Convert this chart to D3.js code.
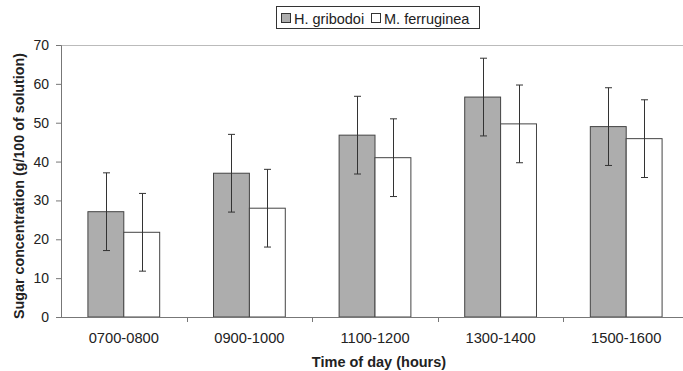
<!DOCTYPE html>
<html>
<head>
<meta charset="utf-8">
<script src="https://cdn.jsdelivr.net/npm/d3@7"></script>
<style>
	body { margin: 0; background: #fff; }
	text { font-family: "Liberation Sans", Arial, sans-serif; }
</style>
</head>
<body>
<svg id="chart" width="683" height="371"></svg>
<script>
// data
let categories = ['0700-0800', '0900-1000', '1100-1200', '1300-1400', '1500-1600'];
let series = ['H. gribodoi', 'M. ferruginea'];
let gribodoi = [27.1, 37.0, 46.8, 56.6, 49.0];
let ferruginea = [21.8, 28.0, 41.0, 49.7, 45.9];
let errGribodoi = [10, 10, 10, 10, 10];
let errFerruginea = [10, 10, 10, 10, 10];
let yTicks = [0, 10, 20, 30, 40, 50, 60, 70];

let svg = d3.select('#chart');
let pLeft = 61, pRight = 689, pTop = 45, pBottom = 317;
let fills = ['#adadad', '#ffffff'];

let x = d3.scaleBand().domain(categories).range([pLeft, pRight]).paddingInner(1.5 / 3.5).paddingOuter(0.75 / 3.5);
let x1 = d3.scaleBand().domain(series).range([0, x.bandwidth()]);
let y = d3.scaleLinear().domain([0, 70]).range([pBottom, pTop]);

// top border of plot
svg.append('line').attr('x1', pLeft).attr('x2', pRight).attr('y1', pTop + 0.5).attr('y2', pTop + 0.5)
	.attr('stroke', '#bbb').attr('stroke-width', 1);

let rows = categories.map((c, i) => [
	{ cat: c, s: series[0], v: gribodoi[i], e: errGribodoi[i], fill: fills[0] },
	{ cat: c, s: series[1], v: ferruginea[i], e: errFerruginea[i], fill: fills[1] }
]).flat();

let g = svg.append('g');
g.selectAll('rect.bar').data(rows).enter().append('rect').attr('class', 'bar')
	.attr('x', d => x(d.cat) + x1(d.s))
	.attr('y', d => y(d.v))
	.attr('width', x1.bandwidth())
	.attr('height', d => pBottom - y(d.v))
	.attr('fill', d => d.fill)
	.attr('stroke', '#444').attr('stroke-width', 1);

// error bars
let eb = g.selectAll('g.err').data(rows).enter().append('g').attr('class', 'err')
	.attr('stroke', '#333').attr('stroke-width', 1);
eb.each(function (d) {
	let cx = Math.round(x(d.cat) + x1(d.s) + x1.bandwidth() / 2) + 0.5;
	let sel = d3.select(this);
	sel.append('line').attr('x1', cx).attr('x2', cx).attr('y1', y(d.v + d.e)).attr('y2', y(d.v - d.e));
	sel.append('line').attr('x1', cx - 3.5).attr('x2', cx + 3.5).attr('y1', y(d.v + d.e)).attr('y2', y(d.v + d.e));
	sel.append('line').attr('x1', cx - 3.5).attr('x2', cx + 3.5).attr('y1', y(d.v - d.e)).attr('y2', y(d.v - d.e));
});

// y axis
let yAxis = svg.append('g').attr('transform', `translate(${pLeft},0)`)
	.call(d3.axisLeft(y).tickValues(yTicks).tickSize(5).tickPadding(7));
yAxis.select('.domain').attr('stroke', '#777');
yAxis.selectAll('.tick line').attr('stroke', '#777');
yAxis.selectAll('text').attr('font-size', 14).attr('fill', '#222')
	.style('font-family', '"Liberation Sans", Arial, sans-serif');

// x axis
let xAxisG = svg.append('g');
xAxisG.append('line').attr('x1', pLeft).attr('x2', pRight).attr('y1', pBottom + 0.5).attr('y2', pBottom + 0.5)
	.attr('stroke', '#777');
d3.range(1, categories.length).forEach(i => {
	let tx = Math.round(pLeft + i * x.step()) + 0.5;
	xAxisG.append('line').attr('x1', tx).attr('x2', tx).attr('y1', pBottom).attr('y2', pBottom + 5).attr('stroke', '#777');
});
xAxisG.selectAll('text').data(categories).enter().append('text')
	.attr('x', d => x(d) + x.bandwidth() / 2).attr('y', 343)
	.attr('text-anchor', 'middle').attr('font-size', 14.7).attr('fill', '#222').text(d => d);

// axis titles
svg.append('text').attr('x', 379).attr('y', 367).attr('text-anchor', 'middle')
	.attr('font-size', 14.5).attr('font-weight', 'bold').attr('fill', '#222').text('Time of day (hours)');
svg.append('text').attr('transform', `translate(23.5,${(pTop + pBottom) / 2 + 5}) rotate(-90)`)
	.attr('text-anchor', 'middle').attr('font-size', 14.3).attr('font-weight', 'bold').attr('fill', '#222')
	.text('Sugar concentration (g/100 of solution)');

// legend
let lg = svg.append('g');
lg.append('rect').attr('x', 276.5).attr('y', 6.5).attr('width', 203).attr('height', 22)
	.attr('fill', '#fff').attr('stroke', '#333');
let items = [{ s: series[0], x: 281, fill: fills[0] }, { s: series[1], x: 371, fill: fills[1] }];
items.forEach(it => {
	lg.append('rect').attr('x', it.x + 0.5).attr('y', 13.5).attr('width', 9).attr('height', 9)
		.attr('fill', it.fill).attr('stroke', '#333');
	lg.append('text').attr('x', it.x + 13).attr('y', 24).attr('font-size', 14.5).attr('fill', '#222').text(it.s);
});
</script>
</body>
</html>
